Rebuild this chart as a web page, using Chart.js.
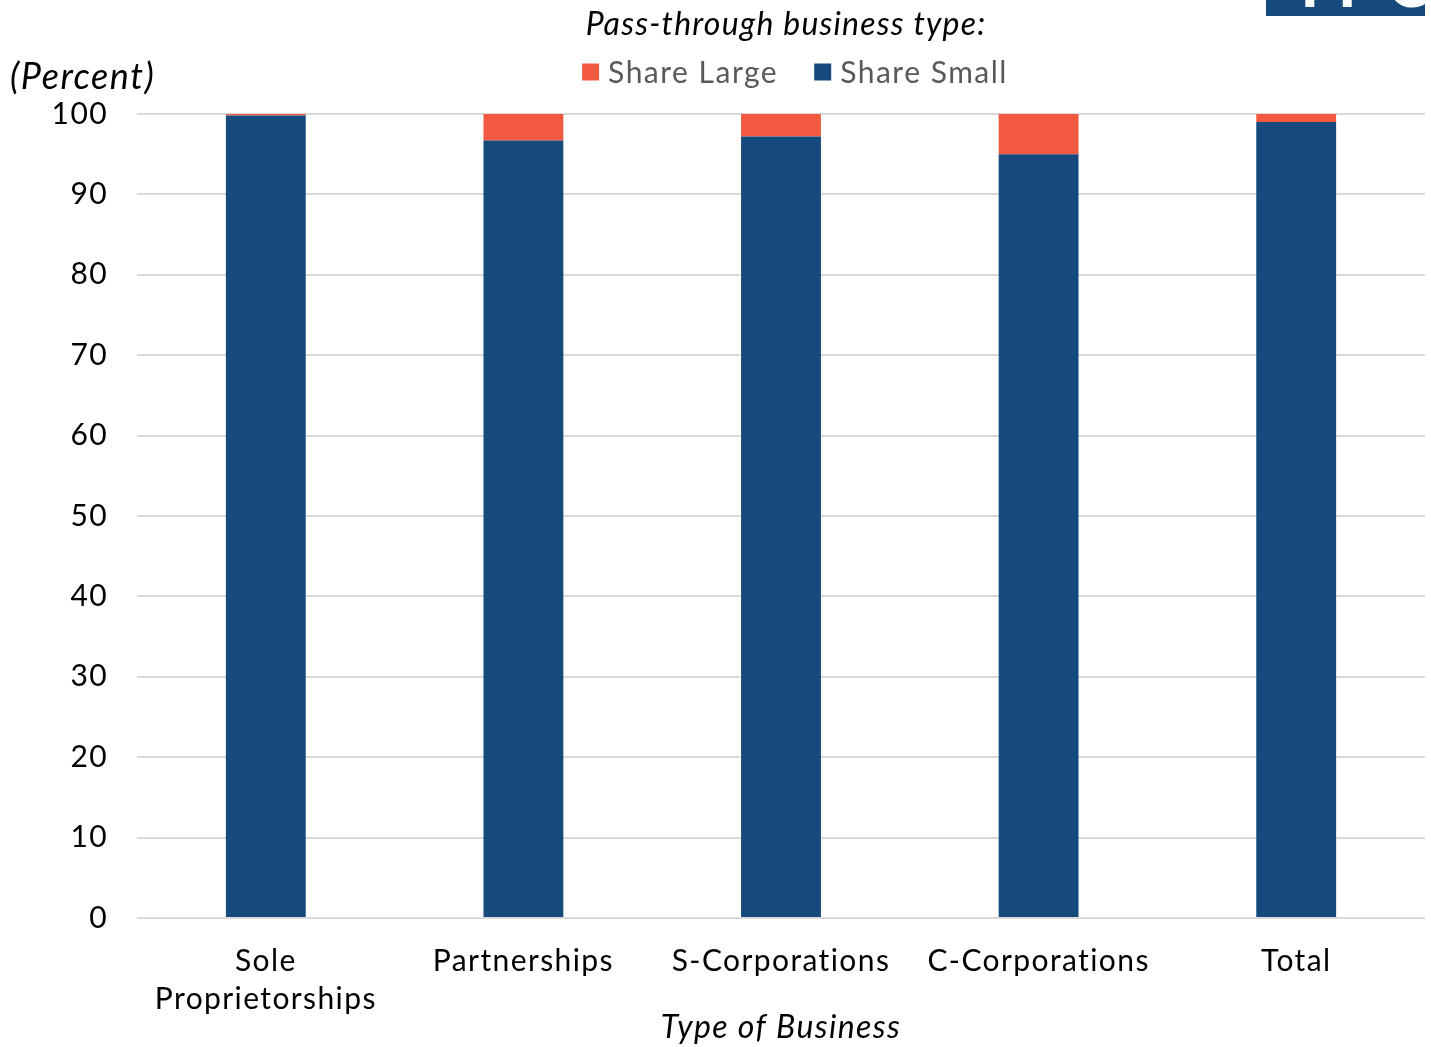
<!DOCTYPE html>
<html>
<head>
<meta charset="utf-8">
<script src="https://cdn.jsdelivr.net/npm/chart.js@4/dist/chart.umd.min.js"></script>
<style>
  html, body { margin:0; padding:0; background:#fff; }
  #wrap { position:relative; width:1431px; height:1047px; overflow:hidden; }
  #logo { position:absolute; left:1266px; top:0; width:159px; height:16px; background:#174a7c; overflow:hidden; }
  #logo span { position:absolute; left:24px; top:-58px; color:#fff; font:bold 66px Lato, sans-serif; letter-spacing:8px; }
</style>
</head>
<body>
<div id="wrap">
  <canvas id="c" width="1431" height="1047"></canvas>
  <div id="logo"><span>TPC</span></div>
</div>
<script>
const categories = [["Sole","Proprietorships"], "Partnerships", "S-Corporations", "C-Corporations", "Total"];
const shareSmall = [99.8, 96.7, 97.2, 95.0, 99.0];
const shareLarge = [0.2, 3.3, 2.8, 5.0, 1.0];
const yTicks = [0, 10, 20, 30, 40, 50, 60, 70, 80, 90, 100];
const legendTitle = "Pass-through business type:";
const yAxisLabel = "(Percent)";
const xAxisLabel = "Type of Business";

const FONT = "Lato, 'Open Sans', sans-serif";

const spacingPlugin = {
  id: 'spacing',
  beforeDraw(chart) { chart.ctx.letterSpacing = '1.4px'; }
};

const overlayPlugin = {
  id: 'overlay',
  afterDraw(chart) {
    const ctx = chart.ctx;
    const area = chart.chartArea;
    ctx.save();
    ctx.fillStyle = '#000';
    ctx.textBaseline = 'middle';
    ctx.font = 'italic 36px ' + FONT;
    ctx.letterSpacing = '1.5px';
    ctx.textAlign = 'left';
    ctx.fillText(yAxisLabel, 10, area.top - 37);
    ctx.font = 'italic 32px ' + FONT;
    ctx.letterSpacing = '1.2px';
    ctx.textAlign = 'center';
    ctx.fillText(legendTitle, 786, 25);
    ctx.font = '30px ' + FONT;
    ctx.letterSpacing = '1.5px';
    ctx.textAlign = 'left';
    const items = chart.data.datasets.slice().reverse();
    const box = 17, gap = 9, spacing = 36;
    let widths = items.map(d => box + gap + ctx.measureText(d.label).width);
    let total = widths.reduce((a,b)=>a+b,0) + spacing*(items.length-1);
    let x = 795 - total/2;
    const y = 72;
    items.forEach((d, i) => {
      ctx.fillStyle = d.backgroundColor;
      ctx.fillRect(x, y - box/2, box, box);
      ctx.fillStyle = '#595959';
      ctx.fillText(d.label, x + box + gap, y + 1);
      x += widths[i] + spacing;
    });
    ctx.restore();
  }
};

new Chart(document.getElementById('c'), {
  type: 'bar',
  data: {
    labels: categories,
    datasets: [
      { label: 'Share Small', data: shareSmall, backgroundColor: '#174a7c', barPercentage: 0.62, categoryPercentage: 0.5 },
      { label: 'Share Large', data: shareLarge, backgroundColor: '#f15a40', barPercentage: 0.62, categoryPercentage: 0.5 }
    ]
  },
  options: {
    responsive: false,
    animation: false,
    devicePixelRatio: 1,
    layout: { padding: { top: 114, right: 6, left: 0, bottom: 0 } },
    plugins: { legend: { display: false }, tooltip: { enabled: false } },
    scales: {
      x: {
        stacked: true,
        grid: { display: false, drawTicks: false },
        border: { display: false },
        ticks: { color: '#000', font: { family: FONT, size: 30, lineHeight: 1.27 }, padding: 24, maxRotation: 0, autoSkip: false },
        title: { display: true, text: xAxisLabel, color: '#000', font: { family: FONT, size: 32, style: 'italic' }, padding: { top: 0, bottom: 0 } },
        afterFit(s) { s.height = 129; }
      },
      y: {
        stacked: true,
        min: 0, max: 100,
        afterBuildTicks(s) { s.ticks = yTicks.map(v => ({ value: v })); },
        grid: { color: '#d9d9d9', lineWidth: 2, drawTicks: false },
        border: { display: false },
        ticks: { color: '#000', font: { family: FONT, size: 30 }, padding: 29 },
        afterFit(s) { s.width = 137; }
      }
    }
  },
  plugins: [spacingPlugin, overlayPlugin]
});
</script>
</body>
</html>
